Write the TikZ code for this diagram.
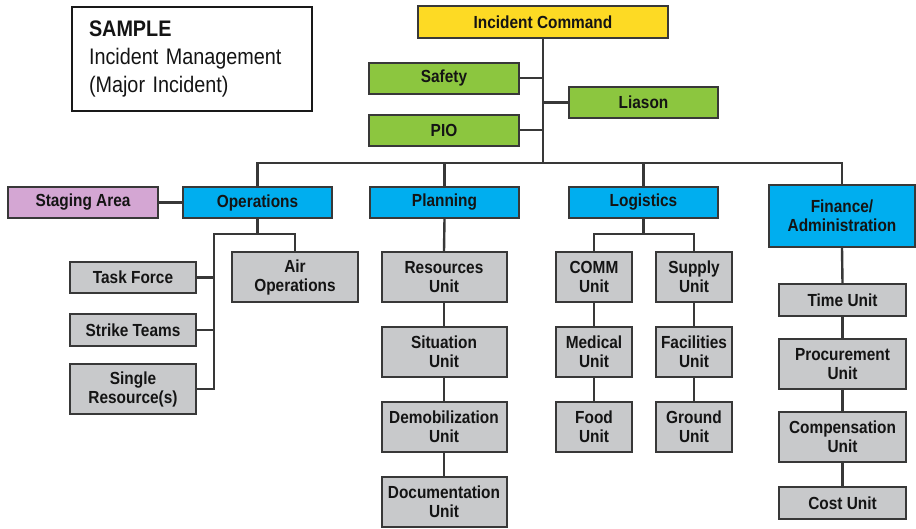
\documentclass[tikz,border=0pt]{standalone}
\usepackage{fontspec}
\setmainfont{Liberation Sans}[FakeStretch=0.88]
\definecolor{icyel}{HTML}{FDDA24}
\definecolor{icgrn}{HTML}{8CC63F}
\definecolor{icblu}{HTML}{00AEEF}
\definecolor{icpnk}{HTML}{D4A6D3}
\definecolor{icgry}{HTML}{C8C9CB}
\definecolor{icline}{HTML}{383838}
\definecolor{ictext}{HTML}{141414}
\tikzset{
  bx/.style={draw=icline, line width=2pt, inner sep=1pt, align=center, text=ictext,
    font=\fontsize{17.5}{19}\selectfont\bfseries},
  yel/.style={bx, fill=icyel},
  grn/.style={bx, fill=icgrn},
  blu/.style={bx, fill=icblu},
  pnk/.style={bx, fill=icpnk},
  gry/.style={bx, fill=icgry},
  conn/.style={draw=icline, line width=2.4pt},
}
\begin{document}
\begin{tikzpicture}[x=1pt,y=-1pt]
\useasboundingbox (0,0) rectangle (916,528);
% title
\node[draw=black!90, line width=2.4pt, minimum width=240, minimum height=104, text width=206,
  align=left, inner sep=0, font=\fontsize{22.5}{28}\selectfont, text=ictext] (title) at (192,59)
  {\textbf{SAMPLE}\\Incident Management\\(Major Incident)};
% command
\node[yel, minimum width=250, minimum height=32] (ic) at (543,22) {Incident Command};
\node[grn, minimum width=150, minimum height=31] (safety) at (444,78) {Safety};
\node[grn, minimum width=150, minimum height=31] (pio) at (444,130) {PIO};
\node[grn, minimum width=149, minimum height=31] (liason) at (643.5,102.5) {Liason};
% sections
\node[blu, minimum width=149, minimum height=31] (ops) at (257.5,202.5) {Operations};
\node[blu, minimum width=149, minimum height=31] (plan) at (444.5,202.5) {Planning};
\node[blu, minimum width=149, minimum height=31] (log) at (643.5,202.5) {Logistics};
\node[blu, minimum width=146, minimum height=62] (fin) at (842,216) {Finance/\\Administration};
\node[pnk, minimum width=150, minimum height=31] (staging) at (83,202.5) {Staging Area};
% operations
\node[gry, minimum width=126, minimum height=50] (air) at (295,277) {Air\\Operations};
\node[gry, minimum width=126, minimum height=31] (tf) at (133,277.5) {Task Force};
\node[gry, minimum width=126, minimum height=32] (st) at (133,330) {Strike Teams};
\node[gry, minimum width=126, minimum height=50] (sr) at (133,389) {Single\\Resource(s)};
% planning
\node[gry, minimum width=125, minimum height=50] (ru) at (444,277) {Resources\\Unit};
\node[gry, minimum width=125, minimum height=50] (su) at (444,352) {Situation\\Unit};
\node[gry, minimum width=125, minimum height=50] (du) at (444,427) {Demobilization\\Unit};
\node[gry, minimum width=125, minimum height=50] (docu) at (444,502) {Documentation\\Unit};
% logistics
\node[gry, minimum width=76, minimum height=50] (comm) at (594,277) {COMM\\Unit};
\node[gry, minimum width=76, minimum height=50] (med) at (594,352) {Medical\\Unit};
\node[gry, minimum width=76, minimum height=50] (food) at (594,427) {Food\\Unit};
\node[gry, minimum width=76, minimum height=50] (sup) at (694,277) {Supply\\Unit};
\node[gry, minimum width=76, minimum height=50] (fac) at (694,352) {Facilities\\Unit};
\node[gry, minimum width=76, minimum height=50] (gnd) at (694,427) {Ground\\Unit};
% finance
\node[gry, minimum width=127, minimum height=32] (time) at (842.5,300) {Time Unit};
\node[gry, minimum width=127, minimum height=50] (proc) at (842.5,364) {Procurement\\Unit};
\node[gry, minimum width=127, minimum height=50] (comp) at (842.5,437) {Compensation\\Unit};
\node[gry, minimum width=127, minimum height=32] (cost) at (842.5,503) {Cost Unit};
% connectors
\coordinate (busy) at (0,163);
\draw[conn] (ic.south) -- (ic.south |- busy);
\draw[conn] (ops.north) -- (ops.north |- busy) -| (fin.north);
\draw[conn] (plan.north) -- (plan.north |- busy);
\draw[conn] (log.north) -- (log.north |- busy);
\draw[conn] (safety.east) -- (safety.east -| ic.south);
\draw[conn] (pio.east) -- (pio.east -| ic.south);
\draw[conn] (liason.west) -- (liason.west -| ic.south);
\draw[conn] (staging.east) -- (ops.west);
\coordinate (opsbus) at (214,234);
\draw[conn] (ops.south) -- (ops.south |- opsbus);
\draw[conn] (sr.east) -| (opsbus) -| (air.north);
\draw[conn] (tf.east) -- (tf.east -| opsbus);
\draw[conn] (st.east) -- (st.east -| opsbus);
\draw[conn] (plan.south) -- (ru.north);
\draw[conn] (ru.south) -- (su.north);
\draw[conn] (su.south) -- (du.north);
\draw[conn] (du.south) -- (docu.north);
\coordinate (logbus) at (643.5,234);
\draw[conn] (log.south) -- (logbus);
\draw[conn] (comm.north) |- (logbus) -| (sup.north);
\draw[conn] (comm.south) -- (med.north);
\draw[conn] (med.south) -- (food.north);
\draw[conn] (sup.south) -- (fac.north);
\draw[conn] (fac.south) -- (gnd.north);
\draw[conn] (fin.south) -- (time.north);
\draw[conn] (time.south) -- (proc.north);
\draw[conn] (proc.south) -- (comp.north);
\draw[conn] (comp.south) -- (cost.north);
\end{tikzpicture}
\end{document}
